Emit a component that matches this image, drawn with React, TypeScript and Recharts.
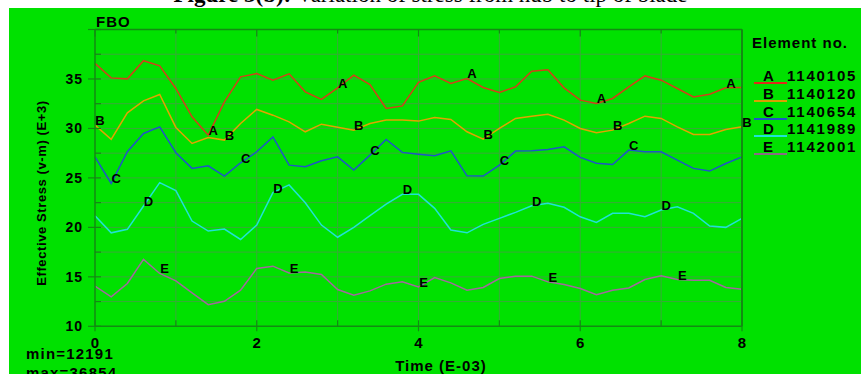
import React from 'react';
import { LineChart, Line, XAxis, YAxis, CartesianGrid } from 'recharts';

// time in E-03 s
const times = [0, 0.2, 0.4, 0.6, 0.8, 1, 1.2, 1.4, 1.6, 1.8, 2, 2.2, 2.4, 2.6, 2.8, 3, 3.2, 3.4, 3.6, 3.8, 4,
    4.2, 4.4, 4.6, 4.8, 5, 5.2, 5.4, 5.6, 5.8, 6, 6.2, 6.4, 6.6, 6.8, 7, 7.2, 7.4, 7.6, 7.8, 8];

// effective stress (E+3) per element
const seriesA = [36.57, 35.11, 35.01, 36.85, 36.33, 34.04, 31.17, 29.32, 32.69, 35.21, 35.55, 34.88, 35.52, 33.7, 32.93,
    34.1, 35.38, 34.44, 32.02, 32.28, 34.65, 35.31, 34.55, 35.05, 34.14, 33.64, 34.2, 35.79, 35.92, 34.1, 32.86,
    32.53, 33.03, 34.2, 35.31, 34.88, 34.04, 33.19, 33.46, 34.1, 34.14];
const seriesB = [30.33, 28.89, 31.58, 32.79, 33.43, 30.1, 28.48, 29.09, 28.82, 30.5, 31.92, 31.34, 30.67, 29.66, 30.43,
    30.13, 29.83, 30.5, 30.84, 30.84, 30.74, 31.11, 30.91, 29.66, 28.92, 30.0, 31.01, 31.24, 31.44, 30.84, 30.0,
    29.56, 29.83, 30.5, 31.24, 31.01, 30.16, 29.39, 29.39, 29.9, 30.16];
const seriesC = [27.13, 24.44, 27.64, 29.49, 30.16, 27.54, 25.96, 26.22, 25.18, 26.53, 27.64, 29.15, 26.29, 26.12, 26.73,
    27.13, 25.79, 27.3, 28.89, 27.58, 27.4, 27.23, 27.74, 25.21, 25.18, 26.29, 27.71, 27.74, 27.88, 28.14, 27.07,
    26.48, 26.36, 27.81, 27.64, 27.64, 26.8, 25.96, 25.69, 26.46, 27.13];
const seriesD = [21.18, 19.45, 19.8, 22.16, 24.52, 23.71, 20.64, 19.63, 19.83, 18.78, 20.23, 23.51, 24.29, 22.49, 20.23,
    19.0, 20.0, 21.18, 22.36, 23.34, 23.34, 21.92, 19.73, 19.45, 20.3, 20.91, 21.52, 22.19, 22.43, 22.03, 21.07,
    20.5, 21.42, 21.42, 21.07, 21.75, 22.09, 21.42, 20.13, 20.0, 20.91];
const seriesE = [14.05, 12.97, 14.33, 16.76, 15.34, 14.59, 13.37, 12.19, 12.53, 13.65, 15.85, 16.08, 15.4, 15.5, 15.24,
    13.72, 13.14, 13.58, 14.26, 14.49, 13.98, 14.93, 14.39, 13.65, 13.92, 14.83, 15.07, 15.07, 14.49, 14.22, 13.82,
    13.19, 13.65, 13.88, 14.73, 15.1, 14.73, 14.66, 14.66, 13.92, 13.75];

const letters = ['A', 'B', 'C', 'D', 'E'];
const elementIds = ['1140105', '1140120', '1140654', '1141989', '1142001'];
const colors = ['#d2401a', '#e0a400', '#1f55c8', '#1fe3d6', '#a2689e'];
const legendColors = ['#e02a1a', '#d8a000', '#1f55c8', '#1fe3d6', '#8a6a86'];
// which points carry the curve letter
const letterPoints = [
    [7, 15, 23, 31, 39],
    [0, 8, 16, 24, 32, 40],
    [1, 9, 17, 25, 33],
    [3, 11, 19, 27, 35],
    [4, 12, 20, 28, 36],
];

const xTicks = [0, 1, 2, 3, 4, 5, 6, 7, 8];
const yTicks = [10, 12.5, 15, 17.5, 20, 22.5, 25, 27.5, 30, 32.5, 35, 37.5, 40];
const gridX = [1, 2, 3, 4, 5, 6, 7];
const gridY = [12.5, 15, 17.5, 20, 22.5, 25, 27.5, 30, 32.5, 35, 37.5];

const data = times.map((t, i) => ({
    t,
    A: seriesA[i],
    B: seriesB[i],
    C: seriesC[i],
    D: seriesD[i],
    E: seriesE[i],
}));

const font = '"Liberation Sans", Arial, sans-serif';
const axisColor = '#138a13';
const gridColor = '#3aa93a';

const LeftTick = (props: any) => {
    const { x, y, payload } = props;
    const v = payload.value;
    const major = v % 5 === 0;
    return (
        <g>
            <line x1={major ? x - 7 : x} x2={x + 6} y1={y} y2={y} stroke={axisColor} strokeWidth={1.2} />
            {major && v !== 40 && (
                <text x={x - 12} y={y} textAnchor="end" dominantBaseline="central" fontFamily={font}
                    fontWeight="bold" fontSize={14} letterSpacing={1} fill="#000">{v}</text>
            )}
        </g>
    );
};

const RightTick = (props: any) => {
    const { x, y, payload } = props;
    const major = payload.value % 5 === 0;
    return <line x1={x - (major ? 6 : 4)} x2={x} y1={y} y2={y} stroke={axisColor} strokeWidth={1.2} />;
};

const BottomTick = (props: any) => {
    const { x, y, payload } = props;
    const v = payload.value;
    const major = v % 2 === 0;
    return (
        <g>
            <line x1={x} x2={x} y1={y - 6} y2={major ? y + 5 : y} stroke={axisColor} strokeWidth={1.2} />
            {major && (
                <text x={x} y={y + 16} textAnchor="middle" dominantBaseline="central" fontFamily={font}
                    fontWeight="bold" fontSize={15} fill="#000">{v}</text>
            )}
        </g>
    );
};

const TopTick = (props: any) => {
    const { x, y, payload } = props;
    const major = payload.value % 2 === 0;
    return <line x1={x} x2={x} y1={y} y2={y + (major ? 7 : 4)} stroke={axisColor} strokeWidth={1.2} />;
};

const makeLetterDot = (s: number) => (props: any) => {
    const { cx, cy, index } = props;
    if (!letterPoints[s].includes(index)) return <g key={`d${s}-${index}`} />;
    return (
        <text key={`d${s}-${index}`} x={cx + 5} y={cy - 4.5} textAnchor="middle" dominantBaseline="central"
            fontFamily={font} fontWeight="bold" fontSize={13} fill="#000">{letters[s]}</text>
    );
};

const App: React.FC = () => {
    return (
        <div style={{ position: 'absolute', left: 0, top: 0, width: 861, height: 374, overflow: 'hidden', background: '#fff' }}>
            <div style={{
                position: 'absolute', left: 0, top: -17, width: 861, textAlign: 'center',
                fontFamily: '"Liberation Serif", "Times New Roman", serif', fontSize: 23, lineHeight: '23px', color: '#000'
            }}>
                <b>Figure 3(b):</b> Variation of stress from hub to tip of blade
            </div>
            <div style={{ position: 'absolute', left: 9, top: 8, width: 852, height: 366, background: '#00e100' }} />

            <div style={{ position: 'absolute', left: 96, top: 13, fontFamily: font, fontWeight: 'bold', fontSize: 15, lineHeight: '18px', letterSpacing: 1 }}>FBO</div>
            <div style={{ position: 'absolute', left: 752, top: 34, fontFamily: font, fontWeight: 'bold', fontSize: 15, lineHeight: '18px', letterSpacing: 1 }}>Element no.</div>
            {letters.map((l, i) => (
                <div key={l} style={{ position: 'absolute', left: 754, top: 67 + i * 17.8, width: 110, height: 18, fontFamily: font, fontWeight: 'bold', fontSize: 15, lineHeight: '18px' }}>
                    <span style={{ position: 'absolute', left: 9, top: 0 }}>{l}</span>
                    <span style={{ position: 'absolute', left: 33, top: 0, letterSpacing: 1.8 }}>{elementIds[i]}</span>
                    <div style={{ position: 'absolute', left: 0, top: 15, width: 33, height: 2, background: legendColors[i] }} />
                </div>
            ))}
            <div style={{ position: 'absolute', left: 26, top: 345, fontFamily: font, fontWeight: 'bold', fontSize: 15, lineHeight: '18px', letterSpacing: 1.2 }}>min=12191</div>
            <div style={{ position: 'absolute', left: 26, top: 364, fontFamily: font, fontWeight: 'bold', fontSize: 15, lineHeight: '18px', letterSpacing: 1.2 }}>max=36854</div>
            <div style={{ position: 'absolute', left: 341, top: 357, width: 200, textAlign: 'center', fontFamily: font, fontWeight: 'bold', fontSize: 15, lineHeight: '18px', letterSpacing: 1 }}>Time (E-03)</div>
            <div style={{ position: 'absolute', left: 42, top: 193, width: 0, height: 0 }}>
                <div style={{
                    position: 'absolute', left: -120, top: -9, width: 240, textAlign: 'center', transform: 'rotate(-90deg)',
                    fontFamily: font, fontWeight: 'bold', fontSize: 13, lineHeight: '18px', letterSpacing: 0.6, whiteSpace: 'nowrap'
                }}>Effective Stress (v-m) (E+3)</div>
            </div>

            <div style={{ position: 'absolute', left: 0, top: 0 }}>
                <LineChart width={861} height={374} data={data} margin={{ top: 28.5, right: 118, left: 35, bottom: 17.7 }}>
                    <CartesianGrid xAxisId="b" yAxisId="l" stroke={gridColor} strokeWidth={1}
                        verticalValues={gridX} horizontalValues={gridY} />
                    <XAxis xAxisId="b" dataKey="t" type="number" domain={[0, 8]} ticks={xTicks} height={30}
                        axisLine={{ stroke: axisColor, strokeWidth: 1.5 }} tickLine={false} tickSize={0} tickMargin={0}
                        tick={<BottomTick />} interval={0} />
                    <XAxis xAxisId="t" orientation="top" dataKey="t" type="number" domain={[0, 8]} ticks={xTicks} height={1}
                        axisLine={{ stroke: axisColor, strokeWidth: 1.5 }} tickLine={false} tickSize={0} tickMargin={0}
                        tick={<TopTick />} interval={0} />
                    <YAxis yAxisId="l" type="number" domain={[10, 40]} ticks={yTicks} width={60}
                        axisLine={{ stroke: axisColor, strokeWidth: 1.5 }} tickLine={false} tickSize={0} tickMargin={0}
                        tick={<LeftTick />} interval={0} />
                    <YAxis yAxisId="r" orientation="right" type="number" domain={[10, 40]} ticks={yTicks} width={1}
                        axisLine={{ stroke: axisColor, strokeWidth: 2 }} tickLine={false} tickSize={0} tickMargin={0}
                        tick={<RightTick />} interval={0} />
                    {letters.map((l, s) => (
                        <Line key={l} xAxisId="b" yAxisId="l" type="linear" dataKey={l} stroke={colors[s]} strokeWidth={1.5}
                            dot={makeLetterDot(s)} activeDot={false} isAnimationActive={false} />
                    ))}
                </LineChart>
            </div>
        </div>
    );
};

export default App;
